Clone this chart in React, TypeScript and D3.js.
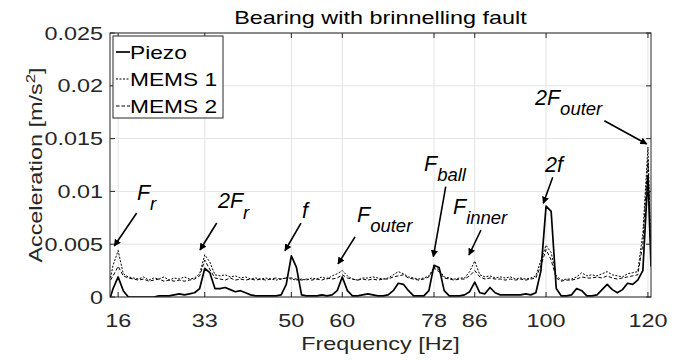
import React from "react";
import * as d3 from "d3";

const freqs = [14.5, 15, 16, 17, 18, 19, 20, 21, 22, 23, 24, 25, 26, 27, 28, 29, 30, 31, 32, 33, 34, 35, 36, 37, 38, 39, 40, 41, 42, 43, 44, 45, 46, 47, 48, 49, 50, 51, 52, 53, 54, 55, 56, 57, 58, 59, 60, 61, 62, 63, 64, 65, 66, 67, 68, 69, 70, 71, 72, 73, 74, 75, 76, 77, 78, 79, 80, 81, 82, 83, 84, 85, 86, 87, 88, 89, 90, 91, 92, 93, 94, 95, 96, 97, 98, 99, 100, 101, 102, 103, 104, 105, 106, 107, 108, 109, 110, 111, 112, 113, 114, 115, 116, 117, 118, 119, 120, 120.6];

const piezo = [0.0000, 0.0008, 0.0019, 0.0006, 0.0000, 0.0000, 0.0000, 0.0000, 0.0000, 0.0000, 0.0001, 0.0001, 0.0001, 0.0002, 0.0003, 0.0002, 0.0003, 0.0004, 0.0008, 0.0027, 0.0023, 0.0008, 0.0008, 0.0009, 0.0007, 0.0005, 0.0006, 0.0004, 0.0002, 0.0001, 0.0001, 0.0001, 0.0001, 0.0001, 0.0002, 0.0012, 0.0039, 0.0028, 0.0002, 0.0001, 0.0001, 0.0001, 0.0002, 0.0001, 0.0002, 0.0006, 0.0019, 0.0006, 0.0001, 0.0001, 0.0002, 0.0003, 0.0002, 0.0001, 0.0001, 0.0002, 0.0006, 0.0013, 0.0012, 0.0006, 0.0001, 0.0001, 0.0001, 0.0006, 0.0030, 0.0028, 0.0006, 0.0001, 0.0001, 0.0001, 0.0002, 0.0005, 0.0014, 0.0004, 0.0003, 0.0009, 0.0004, 0.0002, 0.0002, 0.0002, 0.0002, 0.0002, 0.0003, 0.0002, 0.0004, 0.0025, 0.0086, 0.0081, 0.0008, 0.0001, 0.0001, 0.0002, 0.0008, 0.0006, 0.0001, 0.0001, 0.0002, 0.0007, 0.0012, 0.0007, 0.0004, 0.0007, 0.0013, 0.0012, 0.0016, 0.0025, 0.0115, 0.0029];

const mems1 = [0.0018, 0.0030, 0.0044, 0.0022, 0.0019, 0.0018, 0.0017, 0.0019, 0.0016, 0.0018, 0.0017, 0.0019, 0.0016, 0.0018, 0.0017, 0.0019, 0.0017, 0.0018, 0.0022, 0.0040, 0.0033, 0.0021, 0.0020, 0.0021, 0.0019, 0.0020, 0.0018, 0.0019, 0.0017, 0.0018, 0.0017, 0.0018, 0.0017, 0.0016, 0.0017, 0.0018, 0.0017, 0.0016, 0.0017, 0.0016, 0.0018, 0.0017, 0.0019, 0.0017, 0.0020, 0.0022, 0.0025, 0.0020, 0.0017, 0.0016, 0.0018, 0.0018, 0.0019, 0.0018, 0.0017, 0.0018, 0.0021, 0.0024, 0.0022, 0.0019, 0.0018, 0.0017, 0.0018, 0.0020, 0.0028, 0.0026, 0.0019, 0.0018, 0.0017, 0.0018, 0.0018, 0.0024, 0.0034, 0.0021, 0.0019, 0.0020, 0.0018, 0.0019, 0.0018, 0.0019, 0.0017, 0.0018, 0.0017, 0.0018, 0.0020, 0.0035, 0.0049, 0.0042, 0.0020, 0.0016, 0.0017, 0.0017, 0.0019, 0.0023, 0.0020, 0.0021, 0.0020, 0.0022, 0.0024, 0.0021, 0.0020, 0.0019, 0.0022, 0.0023, 0.0024, 0.0060, 0.0142, 0.0040];

const mems2 = [0.0016, 0.0020, 0.0029, 0.0020, 0.0018, 0.0017, 0.0016, 0.0017, 0.0015, 0.0016, 0.0017, 0.0015, 0.0016, 0.0015, 0.0016, 0.0015, 0.0016, 0.0017, 0.0020, 0.0035, 0.0026, 0.0018, 0.0017, 0.0016, 0.0018, 0.0016, 0.0017, 0.0016, 0.0017, 0.0016, 0.0017, 0.0016, 0.0017, 0.0018, 0.0017, 0.0018, 0.0018, 0.0017, 0.0016, 0.0017, 0.0016, 0.0017, 0.0016, 0.0018, 0.0017, 0.0018, 0.0021, 0.0018, 0.0017, 0.0016, 0.0017, 0.0016, 0.0017, 0.0016, 0.0017, 0.0017, 0.0019, 0.0020, 0.0021, 0.0018, 0.0017, 0.0016, 0.0017, 0.0019, 0.0027, 0.0024, 0.0018, 0.0017, 0.0016, 0.0017, 0.0017, 0.0020, 0.0025, 0.0019, 0.0017, 0.0018, 0.0017, 0.0017, 0.0016, 0.0017, 0.0016, 0.0017, 0.0016, 0.0017, 0.0018, 0.0030, 0.0045, 0.0035, 0.0018, 0.0015, 0.0016, 0.0016, 0.0017, 0.0019, 0.0018, 0.0018, 0.0019, 0.0018, 0.0020, 0.0018, 0.0017, 0.0018, 0.0019, 0.0020, 0.0021, 0.0050, 0.0130, 0.0035];

const xTicks = [16, 33, 50, 60, 78, 86, 100, 120];
const yTicks = [0, 0.005, 0.01, 0.015, 0.02, 0.025];
const yTickLabels = ["0", "0.005", "0.01", "0.015", "0.02", "0.025"];
const seriesNames = ["Piezo", "MEMS 1", "MEMS 2"];

// annotations: main text, subscript, arrow tip (freq, value)
const annMain = ["F", "2F", "f", "F", "F", "F", "2f", "2F"];
const annSub = ["r", "r", "", "outer", "ball", "inner", "", "outer"];
const annTipF = [15.24, 32.07, 48.75, 59.16, 77.87, 84.87, 99.46, 119.76];
const annTipV = [0.00483, 0.00445, 0.00438, 0.00313, 0.00382, 0.00398, 0.00887, 0.01449];
// layout offsets (px) relative to the tip
const annTail = [[22.4, -33], [16.7, -27], [16, -27.7], [17, -27], [12.4, -70], [12, -25], [9.4, -26], [-42.4, -23.3]];
const annText = [[22.7, -46], [18, -42], [17, -33], [19, -42], [-9.3, -86], [-16, -41], [1.7, -31], [-111.7, -39]];

const W = 686, H = 360;
const L = 110, R = 651, T = 33, B = 297;
const FONT = "'Liberation Sans', Arial, Helvetica, sans-serif";
const AX = "#262626";
const SX = 1.3;

function ST(props: { x: number; y: number; anchor?: string; size: number; fill?: string; children: any; rotate?: boolean }) {
  const tr = props.rotate
    ? `translate(${props.x},${props.y}) rotate(-90) scale(${SX},1)`
    : `translate(${props.x},${props.y}) scale(${SX},1)`;
  return (
    <text transform={tr} textAnchor={props.anchor || "start"} fontSize={props.size} fill={props.fill || AX}>
      {props.children}
    </text>
  );
}

export default function App() {
  const x = d3.scaleLinear().domain([14.4, 120.6]).range([L, R]);
  const y = d3.scaleLinear().domain([0, 0.025]).range([B, T]);
  const line = d3.line<number>().x((_, i) => x(freqs[i])).y((d) => y(d));
  const series = [
    { vals: piezo, dash: undefined, w: 1.7 },
    { vals: mems1, dash: "2,1.5", w: 1 },
    { vals: mems2, dash: "3.5,2", w: 1 },
  ];

  return (
    <svg width={W} height={H} style={{ position: "absolute", left: 0, top: 0, background: "#fff" }} fontFamily={FONT}>
      <defs>
        <marker id="ah" viewBox="0 0 10 10" refX="9" refY="5" markerWidth="4.5" markerHeight="4.5" orient="auto" markerUnits="strokeWidth">
          <path d="M0,0 L10,5 L0,10 z" fill="#000" />
        </marker>
        <clipPath id="clip"><rect x={L} y={T} width={R - L} height={B - T} /></clipPath>
      </defs>
      <rect x={0} y={0} width={W} height={H} fill="#fff" />
      {xTicks.map((t) => (
        <line key={"gx" + t} x1={x(t)} x2={x(t)} y1={T} y2={B} stroke="#e3e3e3" strokeWidth={1} />
      ))}
      {yTicks.map((t) => (
        <line key={"gy" + t} x1={L} x2={R} y1={y(t)} y2={y(t)} stroke="#e3e3e3" strokeWidth={1} />
      ))}
      <g clipPath="url(#clip)">
        {series.slice().reverse().map((s, i) => (
          <path key={i} d={line(s.vals) || ""} fill="none" stroke="#000" strokeWidth={s.w} strokeDasharray={s.dash} strokeLinejoin="round" />
        ))}
      </g>
      <rect x={L} y={T} width={R - L} height={B - T} fill="none" stroke={AX} strokeWidth={1} />
      {xTicks.map((t) => (
        <g key={"tx" + t}>
          <line x1={x(t)} x2={x(t)} y1={B} y2={B - 5} stroke={AX} />
          <line x1={x(t)} x2={x(t)} y1={T} y2={T + 5} stroke={AX} />
          <ST x={x(t)} y={327} anchor="middle" size={18}>{t}</ST>
        </g>
      ))}
      {yTicks.map((t, i) => (
        <g key={"ty" + t}>
          <line x1={L} x2={L + 5} y1={y(t)} y2={y(t)} stroke={AX} />
          <line x1={R} x2={R - 5} y1={y(t)} y2={y(t)} stroke={AX} />
          <ST x={103} y={y(t) + 6.5} anchor="end" size={18}>{yTickLabels[i]}</ST>
        </g>
      ))}
      <ST x={(L + R) / 2} y={24} anchor="middle" size={18} fill="#000">Bearing with brinnelling fault</ST>
      <ST x={(L + R) / 2} y={350} anchor="middle" size={18}>Frequency [Hz]</ST>
      <ST x={42} y={(T + B) / 2} anchor="middle" size={18} rotate>
        Acceleration [m/s<tspan dy={-7} fontSize={13}>2</tspan><tspan dy={7}>]</tspan>
      </ST>
      {annMain.map((m, i) => {
        const tx = x(annTipF[i]);
        const ty = y(annTipV[i]);
        return (
          <g key={"a" + i}>
            <line x1={tx + annTail[i][0]} y1={ty + annTail[i][1]} x2={tx} y2={ty} stroke="#000" strokeWidth={1.6} markerEnd="url(#ah)" />
            <text x={tx + annText[i][0]} y={ty + annText[i][1]} fontSize={21.5} fontStyle="italic" fill="#000">
              {m}
              {annSub[i] ? <tspan dy={10.5} fontSize={18.5}>{annSub[i]}</tspan> : null}
            </text>
          </g>
        );
      })}
      <rect x={113} y={36} width={110} height={82} fill="#fff" stroke={AX} strokeWidth={1} />
      {seriesNames.map((n, i) => {
        const cy = 52 + i * 27;
        return (
          <g key={"l" + i}>
            <line x1={116} x2={130} y1={cy} y2={cy} stroke="#000" strokeWidth={series[i].w} strokeDasharray={series[i].dash} />
            <ST x={130} y={cy + 6.5} size={17.5} fill="#000">{n}</ST>
          </g>
        );
      })}
    </svg>
  );
}
